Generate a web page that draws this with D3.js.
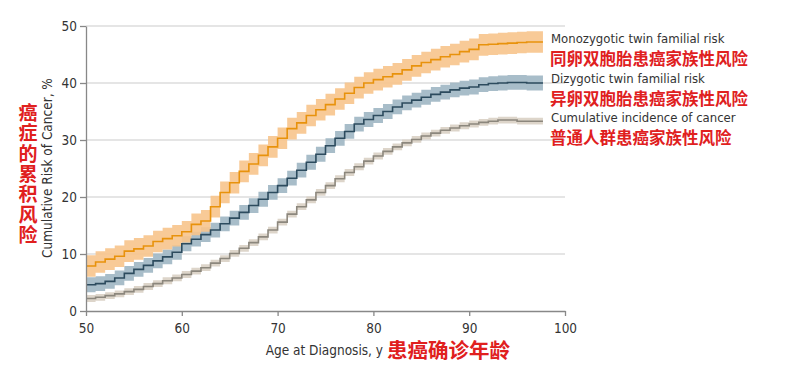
<!DOCTYPE html>
<html>
<head>
<meta charset="utf-8">
<script src="https://cdn.jsdelivr.net/npm/d3@7"></script>
<style>
  body { margin: 0; background: #fff; }
  text { font-family: "Liberation Sans Narrow", "DejaVu Sans Condensed", "Roboto", sans-serif; }
  .cn { font-family: "Noto Sans CJK SC", sans-serif; font-weight: 700; fill: #e0201e; }
</style>
</head>
<body>
<svg id="chart" width="805" height="375"></svg>
<script>
// ages (start of each step), last step ends at endAge
const ages = d3.range(50, 98);
const endAge = 97.7;

// monozygotic twin familial risk, %
const mzRisk = [7.9, 8.6, 9.1, 9.6, 10.5, 10.9, 11.4, 12.2, 12.7, 13.2,
  13.9, 15.2, 15.8, 18.3, 20.8, 22.5, 24.5, 25.8, 27.3, 28.8,
  30.3, 32.0, 33.0, 34.3, 35.3, 36.2, 37.2, 38.2, 39.2, 40.0,
  40.6, 41.1, 41.6, 42.3, 43.0, 43.6, 44.1, 44.6, 45.0, 45.5,
  45.9, 46.7, 46.8, 46.9, 47.0, 47.1, 47.2, 47.2];
// dizygotic twin familial risk, %
const dzRisk = [4.6, 4.8, 5.2, 5.8, 6.6, 7.3, 8.0, 8.8, 9.5, 10.3,
  11.8, 12.6, 13.4, 14.2, 15.3, 16.3, 17.3, 18.5, 19.6, 20.8,
  22.0, 23.3, 24.7, 26.1, 27.5, 29.0, 30.3, 31.5, 32.8, 33.6,
  34.3, 35.0, 35.8, 36.5, 37.0, 37.5, 38.0, 38.4, 38.8, 39.1,
  39.3, 39.7, 39.9, 40.0, 40.1, 40.1, 40.0, 40.0];
// cumulative incidence of cancer, general population, %
const popRisk = [2.2, 2.4, 2.7, 3.0, 3.4, 3.8, 4.3, 4.8, 5.3, 5.8,
  6.4, 7.0, 7.6, 8.4, 9.2, 10.1, 11.0, 12.0, 13.0, 14.2,
  15.6, 17.0, 18.3, 19.5, 20.8, 22.0, 23.2, 24.3, 25.3, 26.3,
  27.2, 28.0, 28.8, 29.5, 30.1, 30.7, 31.2, 31.7, 32.1, 32.5,
  32.8, 33.1, 33.3, 33.5, 33.5, 33.3, 33.3, 33.3];
// half-width of the confidence band
const ciHalf = [1.9, 1.3, 0.6];

const xTicks = [50, 60, 70, 80, 90, 100];
const yTicks = [0, 10, 20, 30, 40, 50];

const seriesNames = ["Monozygotic twin familial risk", "Dizygotic twin familial risk", "Cumulative incidence of cancer"];
const seriesNamesCn = ["同卵双胞胎患癌家族性风险", "异卵双胞胎患癌家族性风险", "普通人群患癌家族性风险"];
const lineColors = ["#e8920c", "#2c4b5e", "#8c877d"];
const bandColors = ["#f7c48c", "#9fb6c3", "#d9d0c4"];

let svg = d3.select("#chart");
let plotLeft = 86, plotRight = 565, plotTop = 26, plotBottom = 311;

let x = d3.scaleLinear().domain([50, 100]).range([plotLeft, plotRight]);
let y = d3.scaleLinear().domain([0, 50]).range([plotBottom, plotTop]);

// gridlines
svg.append("g")
  .selectAll("line")
  .data(yTicks.slice(1))
  .join("line")
  .attr("x1", plotLeft).attr("x2", plotRight)
  .attr("y1", d => y(d)).attr("y2", d => y(d))
  .attr("stroke", "#dcdcdc")
  .attr("stroke-width", 1.5);

let allSeries = [mzRisk, dzRisk, popRisk].map((vals, i) => {
  let pts = ages.map((a, j) => ({ a: a, v: vals[j] }));
  pts.push({ a: endAge, v: vals[vals.length - 1] });
  return { pts: pts, i: i };
});

let band = d3.area().curve(d3.curveStepAfter);
let line = d3.line().curve(d3.curveStepAfter)
  .x(d => x(d.a)).y(d => y(d.v));

// bands drawn back to front
allSeries.slice().reverse().forEach(s => {
  svg.append("path")
    .datum(s.pts)
    .attr("fill", bandColors[s.i])
    .attr("opacity", 0.9)
    .attr("d", band.x(d => x(d.a))
      .y0(d => y(d.v - ciHalf[s.i]))
      .y1(d => y(d.v + ciHalf[s.i])));
});

allSeries.forEach(s => {
  svg.append("path")
    .datum(s.pts)
    .attr("fill", "none")
    .attr("stroke", lineColors[s.i])
    .attr("stroke-width", 1.6)
    .attr("d", line);
});

// axes
let xAxis = svg.append("g")
  .attr("transform", `translate(0,${plotBottom})`)
  .call(d3.axisBottom(x).tickValues(xTicks).tickSize(5).tickSizeOuter(0));
let yAxis = svg.append("g")
  .attr("transform", `translate(${plotLeft},0)`)
  .call(d3.axisLeft(y).tickValues(yTicks).tickSize(6).tickSizeOuter(0));

[xAxis, yAxis].forEach(ax => {
  ax.select(".domain").attr("stroke", "#888").attr("stroke-width", 1.3);
  ax.selectAll(".tick line").attr("stroke", "#888").attr("stroke-width", 1.3);
  ax.selectAll(".tick text").attr("fill", "#333").style("font-size", "13.5px")
    .style("font-family", "'Liberation Sans Narrow', 'DejaVu Sans Condensed', sans-serif");
});
xAxis.selectAll(".tick text").attr("dy", "1em");

// axis titles
svg.append("text")
  .attr("x", 383).attr("y", 355)
  .attr("text-anchor", "end")
  .attr("fill", "#333")
  .style("font-size", "13.5px")
  .text("Age at Diagnosis, y");
svg.append("text")
  .attr("class", "cn")
  .attr("x", 387).attr("y", 358)
  .style("font-size", "20.5px")
  .text("患癌确诊年龄");

svg.append("text")
  .attr("transform", "translate(52,168) rotate(-90)")
  .attr("text-anchor", "middle")
  .attr("fill", "#333")
  .style("font-size", "13.5px")
  .text("Cumulative Risk of Cancer, %");

// vertical chinese title, one text element
svg.append("text")
  .attr("class", "cn")
  .attr("x", 28)
  .attr("y", 103)
  .attr("writing-mode", "tb")
  .style("font-size", "19px")
  .style("letter-spacing", "1.4px")
  .text("癌症的累积风险");

// legend labels next to line ends
const labelY = [42.5, 82.5, 121.5];
seriesNames.forEach((name, i) => {
  svg.append("text")
    .attr("x", 551).attr("y", labelY[i])
    .attr("fill", "#333")
    .style("font-size", "13px")
    .text(name);
  svg.append("text")
    .attr("class", "cn")
    .attr("x", 550).attr("y", labelY[i] + 22)
    .style("font-size", "16.5px")
    .text(seriesNamesCn[i]);
});
</script>
</body>
</html>
